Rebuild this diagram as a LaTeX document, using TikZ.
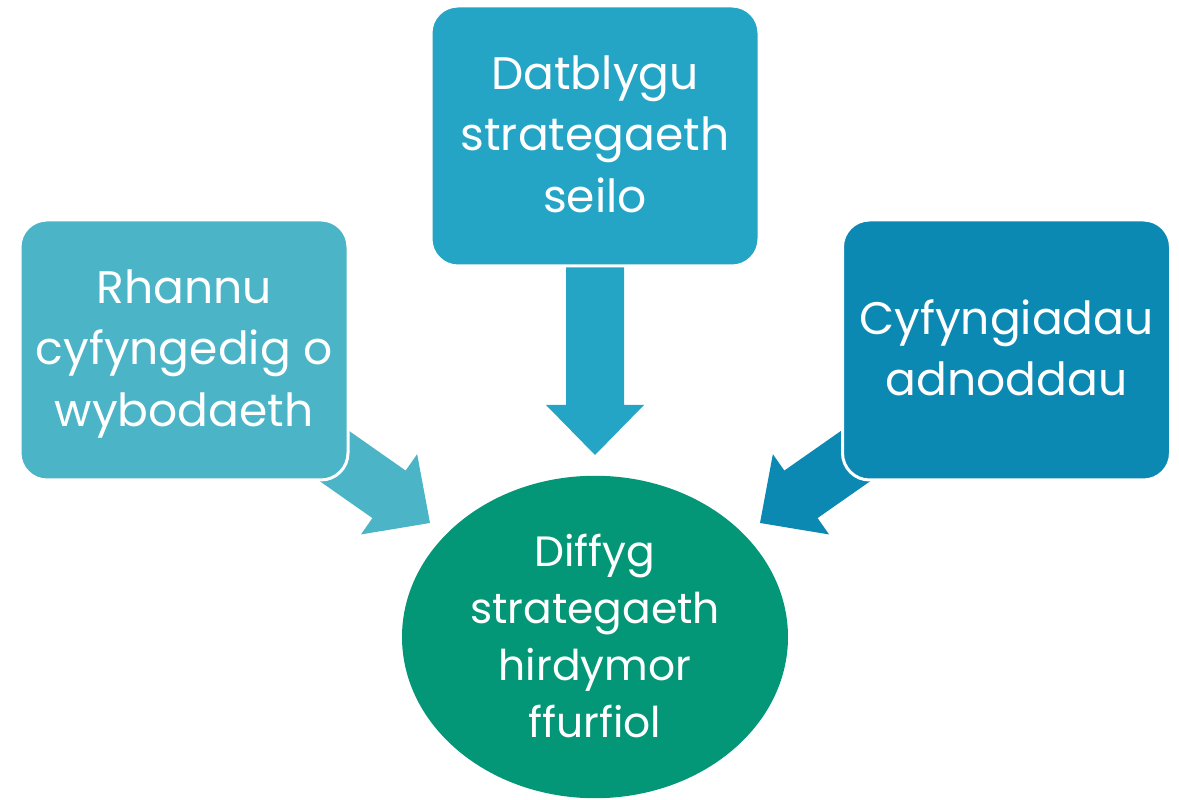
\documentclass[tikz,border=0pt]{standalone}
\usepackage{fontspec}
\setmainfont{Poppins}
\usetikzlibrary{shapes.geometric}
\definecolor{leftc}{HTML}{4BB4C6}
\definecolor{topc}{HTML}{24A5C5}
\definecolor{rightc}{HTML}{0C89B3}
\definecolor{ellc}{HTML}{049777}
\newcommand{\bs}{\rule[-15.75pt]{0pt}{61.5pt}}
\newcommand{\es}{\rule[-13.25pt]{0pt}{57pt}}
\tikzset{
  box/.style={rectangle, rounded corners=27pt, draw=white, line width=3pt,
    minimum width=328pt, minimum height=260pt, inner sep=0pt, align=center,
    text=white, font={\fontsize{45.6}{61.5}\selectfont}},
  goal/.style={ellipse, fill=ellc, minimum width=386pt, minimum height=322pt,
    inner sep=0pt, align=center, text=white, font={\fontsize{42.4}{57}\selectfont}}
}
\newcommand{\blockarrowshape}[1]{%
  (0,0) -- (-50,49) -- (-50,29) -- (-#1,29) -- (-#1,-29) -- (-50,-29) -- (-50,-49) -- cycle}
\begin{document}
\begin{tikzpicture}[x=1pt,y=1pt]
\useasboundingbox (0,0) rectangle (1179,800);
% arrow tips
\coordinate (ttip) at (595,345);
\coordinate (ltip) at (430,277);
\coordinate (rtip) at (760,277);
% block arrows (behind boxes)
\begin{scope}[shift={(ttip)}, rotate=-90]
  \fill[topc] \blockarrowshape{205};
\end{scope}
\begin{scope}[shift={(ltip)}, rotate=-35]
  \fill[leftc] \blockarrowshape{175};
\end{scope}
\begin{scope}[shift={(rtip)}, rotate=-145]
  \fill[rightc] \blockarrowshape{175};
\end{scope}
% boxes
\node[box, fill=leftc] (left) at (184,450) {\bs Rhannu\\\bs cyfyngedig o\\\bs wybodaeth};
\node[box, fill=topc] (top) at (595,664) {\bs Datblygu\\\bs strategaeth\\\bs seilo};
\node[box, fill=rightc] (right) at (1006.5,450) {\bs Cyfyngiadau\\\bs adnoddau};
% goal
\node[goal] (goal) at (595,163) {\es Diffyg\\\es strategaeth\\\es hirdymor\\\es ffurfiol};
\end{tikzpicture}
\end{document}
